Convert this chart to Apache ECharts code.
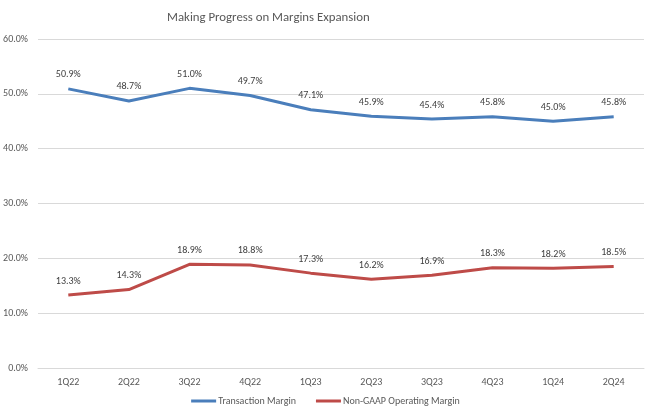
<!DOCTYPE html>
<html><head><meta charset="utf-8">
<script src="https://cdn.jsdelivr.net/npm/echarts@6/dist/echarts.min.js"></script>
<style>html,body{margin:0;padding:0;background:#fff}#c{width:651px;height:415px}</style>
</head><body><div id="c"></div>
<script>
const categories = ['1Q22','2Q22','3Q22','4Q22','1Q23','2Q23','3Q23','4Q23','1Q24','2Q24'];
const transactionMargin = [50.9,48.7,51.0,49.7,47.1,45.9,45.4,45.8,45.0,45.8];
const operatingMargin = [13.3,14.3,18.9,18.8,17.3,16.2,16.9,18.3,18.2,18.5];
const seriesNames = ['Transaction Margin','Non-GAAP Operating Margin'];
const titleText = 'Making Progress on Margins Expansion';

const font = 'Calibri, Carlito, "Open Sans", "Liberation Sans", sans-serif';
const chart = echarts.init(document.getElementById('c'), null, {renderer:'canvas'});
const lbl = {show:true, position:'top', distance:9, formatter: p => p.value.toFixed(1)+'%', color:'#404040', fontSize:10, fontFamily:font};
chart.setOption({
  animation:false,
  title:{text:titleText, left:162, top:6, textStyle:{fontSize:12.8, fontWeight:'normal', color:'#595959', fontFamily:font}},
  grid:{left:38, right:7, top:39, bottom:47},
  legend:{bottom:4, left:'center', itemWidth:25, itemHeight:3, itemGap:20, icon:'rect',
    textStyle:{fontSize:10, color:'#595959', fontFamily:font, padding:[0,0,0,-3]}, data:seriesNames},
  xAxis:{type:'category', data:categories, boundaryGap:true,
    axisLine:{show:true, lineStyle:{color:'#d9d9d9'}}, axisTick:{show:false},
    axisLabel:{color:'#595959', fontSize:10, fontFamily:font, margin:9}},
  yAxis:{type:'value', min:0, max:60, interval:10,
    axisLabel:{formatter: v => v.toFixed(1)+'%', color:'#595959', fontSize:10, fontFamily:font, margin:10},
    splitLine:{lineStyle:{color:'#d9d9d9'}}, axisLine:{show:false}, axisTick:{show:false}},
  series:[
    {name:seriesNames[0], type:'line', data:transactionMargin, symbol:'circle', symbolSize:0.1, showSymbol:true, lineStyle:{width:3, color:'#4A7EBB'}, itemStyle:{color:'#4A7EBB'}, label:lbl},
    {name:seriesNames[1], type:'line', data:operatingMargin, symbol:'circle', symbolSize:0.1, showSymbol:true, lineStyle:{width:3, color:'#BE4B48'}, itemStyle:{color:'#BE4B48'}, label:lbl}
  ]
});
</script></body></html>
